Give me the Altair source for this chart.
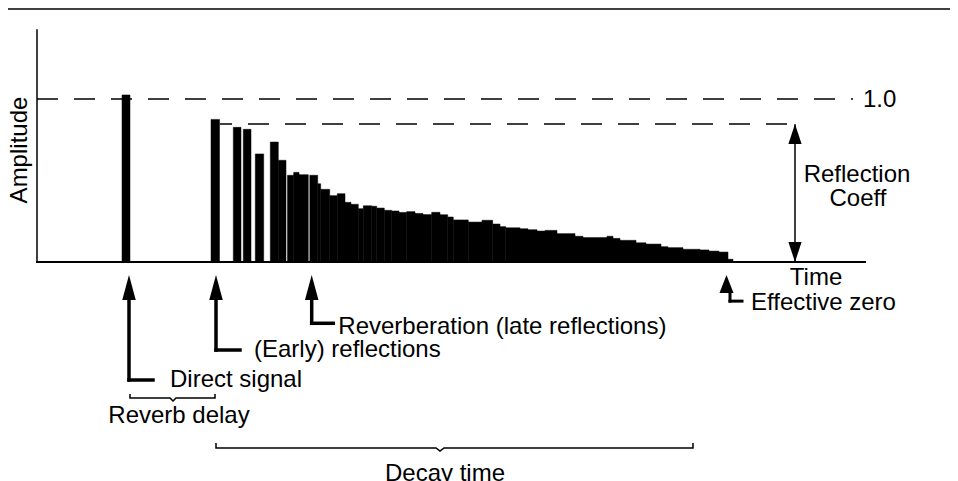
import altair as alt
import pandas as pd

# ---------------- data (time from the amplitude axis, amplitude relative to direct signal) ---------
bar_start = [85, 174, 196.3, 206.3, 218.3, 233.3, 241.3, 250.5, 256.7, 262, 272.8, 280.7, 283.7,
             292.7, 300.3, 308, 314, 321.3, 326.3, 334.7, 339.7, 347.3, 354.7, 362, 369.7, 378,
             386, 394.7, 403, 410.7, 416.3, 431.3, 445, 455.7, 463, 468.7, 483, 491, 500, 508,
             520, 538, 546, 570, 576, 583, 599, 609, 624, 631, 646, 663, 672, 682, 691]
bar_end = [93, 182.5, 204, 214, 226.7, 241.3, 249, 256.7, 262, 271.3, 280.7, 283.7, 292.7,
           300.3, 308, 314, 321.3, 326.3, 334.7, 339.7, 347.3, 354.7, 362, 369.7, 378, 386,
           394.7, 403, 410.7, 416.3, 431.3, 445, 455.7, 463, 468.7, 483, 491, 500, 508, 520,
           538, 546, 570, 576, 583, 599, 609, 624, 631, 646, 663, 672, 682, 691, 696]
amplitude = [1.025, 0.875, 0.826, 0.814, 0.663, 0.736, 0.624, 0.532, 0.550, 0.536, 0.532, 0.480,
             0.446, 0.407, 0.419, 0.366, 0.354, 0.327, 0.345, 0.342, 0.331, 0.317, 0.313, 0.304,
             0.309, 0.298, 0.291, 0.305, 0.290, 0.276, 0.258, 0.245, 0.256, 0.233, 0.217, 0.210,
             0.204, 0.198, 0.190, 0.194, 0.174, 0.158, 0.150, 0.158, 0.145, 0.133, 0.118, 0.110,
             0.094, 0.088, 0.078, 0.074, 0.067, 0.061, 0.017]

unity_level = 1.0
reflection_coeff = 0.847

# solid line segments: (t, a) -> (t2, a2), width
seg_t = [0, 0, 758, 92, 92, 179, 179, 274.7, 274.7, 693, 693]
seg_a = [0, 0, 0.84, -0.233, -0.724, -0.233, -0.540, -0.233, -0.376, -0.190, -0.240]
seg_t2 = [0, 828, 758, 92, 116, 179, 203, 274.7, 296.3, 693, 705]
seg_a2 = [1.423, 0, 0.0, -0.724, -0.724, -0.540, -0.540, -0.376, -0.376, -0.240, -0.240]
seg_w = [1.5, 2, 1.5, 3.5, 3.5, 3.5, 3.5, 3.5, 3.5, 3, 3]

# brackets
br_group = ["delay"] * 7 + ["decay"] * 7
br_t = [93, 93, 133, 136, 139, 178, 178, 179, 179, 399, 403, 407, 656, 656]
br_a = [-0.810, -0.834, -0.834, -0.853, -0.834, -0.834, -0.810,
        -1.110, -1.141, -1.141, -1.160, -1.141, -1.141, -1.110]

# arrow heads (tip positions)
up_head_t = [92, 179, 274.7]
up_head_a = [-0.080, -0.080, -0.080]

# text labels
left_labels = ["1.0", "Effective zero", "Reverberation (late reflections)",
               "(Early) reflections", "Direct signal"]
left_t = [826, 714, 301.3, 217, 133]
left_a = [0.953, -0.294, -0.442, -0.583, -0.767]
center_labels = ["Time", "Reflection", "Coeff", "Reverb delay", "Decay time"]
center_t = [779, 820, 821, 142, 408]
center_a = [-0.141, 0.491, 0.344, -0.988, -1.344]

# ---------------- chart -------------------------------------------------------------------------
W, H = 942, 465
xs = alt.Scale(domain=[-29, 913], nice=False, zero=False)
ys = alt.Scale(domain=[-1.2945, 1.5583], nice=False, zero=False)
FONT = "Liberation Sans"
FS = 24


def X(f="t"):
    return alt.X(f"{f}:Q", scale=xs, axis=None)


def Y(f="a"):
    return alt.Y(f"{f}:Q", scale=ys, axis=None)


bars = alt.Chart(pd.DataFrame({"t": bar_start, "t2": bar_end, "a": amplitude,
                               "a0": [0.0] * len(amplitude)})).mark_rect(
    color="black", stroke="black", strokeWidth=0.5
).encode(x=X("t"), x2="t2", y=Y("a"), y2="a0")

segs = alt.Chart(pd.DataFrame({"t": seg_t, "a": seg_a, "t2": seg_t2, "a2": seg_a2, "w": seg_w})).mark_rule(
    color="black", strokeCap="square"
).encode(x=X("t"), x2="t2", y=Y("a"), y2="a2", strokeWidth=alt.StrokeWidth("w:Q", scale=None))

dash1 = alt.Chart(pd.DataFrame({"t": [0], "t2": [816], "a": [unity_level]})).mark_rule(
    color="black", strokeWidth=1.5, strokeDash=[21, 16]
).encode(x=X("t"), x2="t2", y=Y("a"))

dash2 = alt.Chart(pd.DataFrame({"t": [183], "t2": [756], "a": [reflection_coeff]})).mark_rule(
    color="black", strokeWidth=1.5, strokeDash=[21, 16], strokeDashOffset=9
).encode(x=X("t"), x2="t2", y=Y("a"))

top_line = alt.Chart(pd.DataFrame({"k": [0]})).mark_rule(color="#404040", strokeWidth=2).encode(
    x=alt.value(0), x2=alt.value(W), y=alt.value(1)
)

brackets = alt.Chart(pd.DataFrame({"g": br_group, "o": list(range(len(br_t))), "t": br_t, "a": br_a})).mark_line(
    color="black", strokeWidth=1.5
).encode(x=X(), y=Y(), detail="g:N", order="o:Q")

up_heads = alt.Chart(pd.DataFrame({"t": up_head_t, "a": up_head_a})).mark_point(
    shape="M0,0L0.27,1L-0.27,1Z", filled=True, color="black", opacity=1, size=2500, strokeWidth=0
).encode(x=X(), y=Y())

ez_head = alt.Chart(pd.DataFrame({"t": [689.5], "a": [-0.080]})).mark_point(
    shape="M0,0L0.39,1L-0.39,1Z", filled=True, color="black", opacity=1, size=1296, strokeWidth=0
).encode(x=X(), y=Y())

coeff_up = alt.Chart(pd.DataFrame({"t": [758], "a": [reflection_coeff]})).mark_point(
    shape="M0,0L0.33,1L-0.33,1Z", filled=True, color="black", opacity=1, size=1600, strokeWidth=0
).encode(x=X(), y=Y())

coeff_down = alt.Chart(pd.DataFrame({"t": [758], "a": [0.0]})).mark_point(
    shape="M0,0L0.33,-1L-0.33,-1Z", filled=True, color="black", opacity=1, size=1600, strokeWidth=0
).encode(x=X(), y=Y())

left_text = alt.Chart(pd.DataFrame({"t": left_t, "a": left_a, "label": left_labels})).mark_text(
    align="left", baseline="alphabetic", font=FONT, fontSize=FS, color="black"
).encode(x=X(), y=Y(), text="label:N")

center_text = alt.Chart(pd.DataFrame({"t": center_t, "a": center_a, "label": center_labels})).mark_text(
    align="center", baseline="alphabetic", font=FONT, fontSize=FS, color="black"
).encode(x=X(), y=Y(), text="label:N")

amp_text = alt.Chart(pd.DataFrame({"t": [-10], "a": [0.687], "label": ["Amplitude"]})).mark_text(
    align="center", baseline="alphabetic", angle=270, font=FONT, fontSize=FS, color="black"
).encode(x=X(), y=Y(), text="label:N")

chart = alt.layer(
    top_line, dash1, dash2, bars, segs, brackets, up_heads, ez_head, coeff_up, coeff_down,
    left_text, center_text, amp_text
).properties(
    width=W, height=H,
    autosize=alt.AutoSizeParams(type="none"),
    padding={"left": 0, "right": 0, "top": 0, "bottom": 8},
    background="white",
).configure_view(stroke=None)

chart.save("out.html", embed_options={"renderer": "svg", "actions": False})
